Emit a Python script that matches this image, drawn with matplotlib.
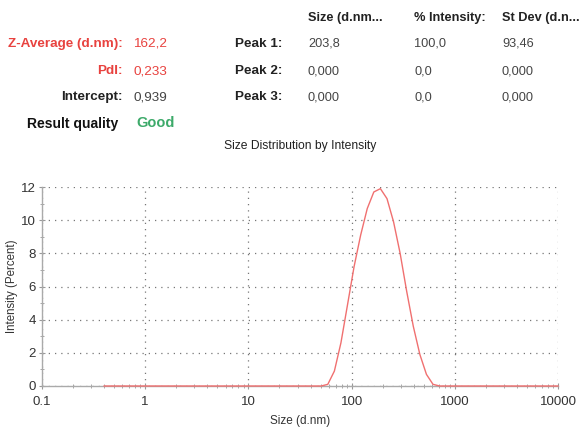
import matplotlib.pyplot as plt
import numpy as np

plt.rcParams['font.family'] = ['Liberation Sans', 'DejaVu Sans']

# size bins (d.nm) and intensity (%)
size_nm = [0.4, 1.0, 10.0, 50.7, 58.8, 68.1, 78.8, 91.3, 105.7, 122.4, 141.8,
           164.2, 190.1, 220.2, 255.0, 295.3, 342.0, 396.1, 458.7, 531.2,
           615.1, 712.4, 1000.0, 10000.0]
intensity = [0, 0, 0, 0, 0.1, 0.9, 2.6, 4.9, 7.2, 9.1, 10.7,
             11.7, 11.9, 11.3, 9.9, 8.0, 5.7, 3.6, 1.9, 0.7,
             0.1, 0, 0, 0]

summary_labels = ['Z-Average (d.nm):', 'PdI:', 'Intercept:']
summary_values = ['162,2', '0,233', '0,939']
peak_labels = ['Peak 1:', 'Peak 2:', 'Peak 3:']
col_headers = ['Size (d.nm...', '% Intensity:', 'St Dev (d.n...']
peak_sizes = ['203,8', '0,000', '0,000']
peak_int = ['100,0', '0,0', '0,0']
peak_sd = ['93,46', '0,000', '0,000']

red = '#e8423f'
W, H = 583, 429
fig = plt.figure(figsize=(W / 100, H / 100), dpi=100)

def fx(px):
    return px / W

def fy(py):
    return 1 - py / H

# header block
rows_y = [44, 71, 97]
for i, y in enumerate(rows_y):
    c = red if i < 2 else '#222222'
    fig.text(fx(123), fy(y), summary_labels[i], ha='right', va='center',
             fontsize=9.7, fontweight='bold', color=c)
    fig.text(fx(133), fy(y), summary_values[i], ha='left', va='center',
             fontsize=9.7, color=red if i < 2 else '#444444')
    fig.text(fx(235), fy(y), peak_labels[i], ha='left', va='center',
             fontsize=9.7, fontweight='bold', color='#222222')
    fig.text(fx(308), fy(y), peak_sizes[i], ha='left', va='center', fontsize=9.2, color='#444444')
    fig.text(fx(414), fy(y), peak_int[i], ha='left', va='center', fontsize=9.2, color='#444444')
    fig.text(fx(502), fy(y), peak_sd[i], ha='left', va='center', fontsize=9.2, color='#444444')

for x, t in zip([308, 414, 502], col_headers):
    fig.text(fx(x), fy(18), t, ha='left', va='center', fontsize=9.2,
             fontweight='bold', color='#222222')

fig.text(fx(27), fy(124), 'Result quality', ha='left', va='center',
         fontsize=10, fontweight='bold', color='#111111')
fig.text(fx(136), fy(123), 'Good', ha='left', va='center',
         fontsize=10.5, fontweight='bold', color='#3daa6a')

# chart
ax = fig.add_axes([fx(42), fy(386), fx(558 - 42), (386 - 187) / H])
ax.plot(size_nm, intensity, color='#f07070', linewidth=1.0, zorder=3, clip_on=False)

ax.set_xscale('log')
ax.set_xlim(0.1, 10000)
ax.set_ylim(0, 12)
ax.set_xticks([0.1, 1, 10, 100, 1000, 10000], ['0.1', '1', '10', '100', '1000', '10000'])
ax.set_yticks(range(0, 13, 2))
ax.set_yticks(range(1, 12, 2), minor=True)

for s in ['top', 'right']:
    ax.spines[s].set_visible(False)
for s in ['left', 'bottom']:
    ax.spines[s].set_color('#aaaaaa')
    ax.spines[s].set_linewidth(1.0)

ax.tick_params(which='both', direction='inout', colors='#999999', labelcolor='#333333',
               labelsize=9.5)
ax.tick_params(which='major', length=5)
ax.tick_params(which='minor', length=3)
ax.tick_params(axis='x', which='major', pad=5)
ax.tick_params(axis='y', which='major', pad=2)
ax.grid(True, which='major', color='#777777', linestyle=(0, (1, 4)), linewidth=0.9)

ax.set_title('Size Distribution by Intensity', fontsize=8.7, color='#222222', pad=27)
ax.set_xlabel('Size (d.nm)', fontsize=8.5, color='#333333', labelpad=5)
ax.set_ylabel('Intensity (Percent)', fontsize=8.3, color='#333333')
ax.yaxis.set_label_coords(-0.047, 0.5)

fig.savefig('out.png', dpi=100)
